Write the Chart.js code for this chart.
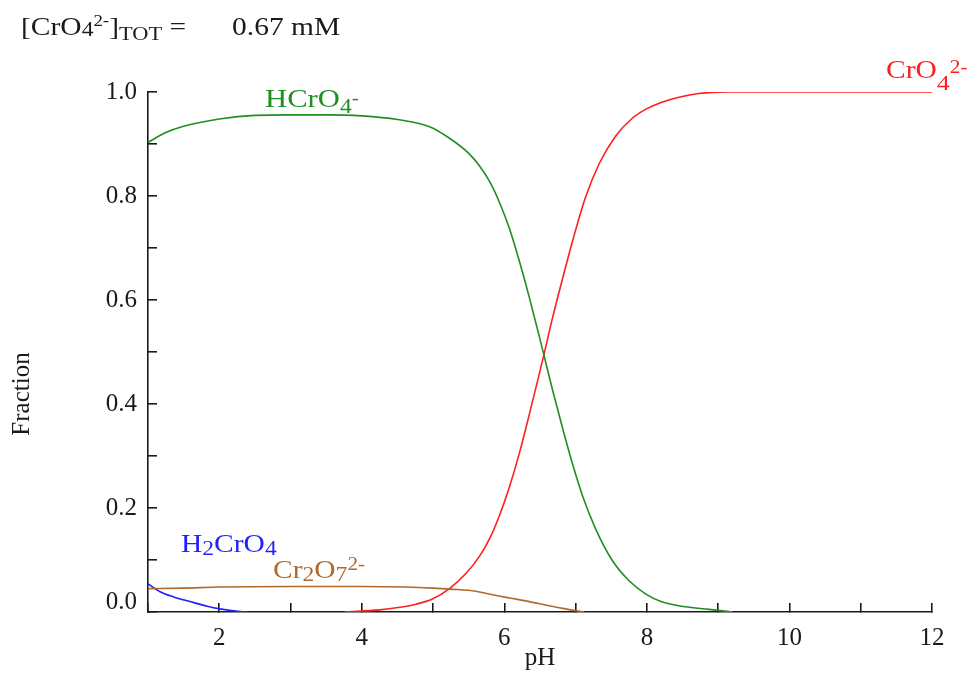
<!DOCTYPE html>
<html>
<head>
<meta charset="utf-8">
<script src="https://cdn.jsdelivr.net/npm/chart.js@4.4.1/dist/chart.umd.min.js"></script>
<style>
  html, body { margin: 0; padding: 0; background: #fff; }
  #wrap { position: relative; width: 977px; height: 684px; }
</style>
</head>
<body>
<div id="wrap">
  <canvas id="myChart" width="977" height="684"></canvas>
</div>
<script>
// values (pH -> fraction)
const ph_H2CrO4 = [1.0, 1.17, 1.36, 1.59, 1.83, 2.01, 2.29, 2.4];
const frac_H2CrO4 = [0.054, 0.039, 0.029, 0.020, 0.011, 0.006, 0.001, 0.0];

const ph_HCrO4 = [1.0, 1.25, 1.5, 2.0, 2.5, 3.0, 3.5, 4.0, 4.5, 4.95, 5.23, 5.5, 5.65, 5.8, 5.93, 6.07, 6.21, 6.35, 6.49, 6.55, 6.68, 6.82, 6.96, 7.1, 7.28, 7.51, 7.75, 7.98, 8.2, 8.45, 8.87, 9.2];
const frac_HCrO4 = [0.903, 0.922, 0.934, 0.948, 0.955, 0.956, 0.956, 0.954, 0.947, 0.933, 0.911, 0.882, 0.858, 0.826, 0.788, 0.738, 0.675, 0.605, 0.530, 0.497, 0.425, 0.352, 0.283, 0.222, 0.160, 0.100, 0.060, 0.035, 0.020, 0.012, 0.005, 0.0];

const ph_CrO4 = [3.76, 4.25, 4.53, 4.76, 4.99, 5.23, 5.46, 5.65, 5.8, 5.93, 6.07, 6.21, 6.35, 6.49, 6.55, 6.68, 6.82, 6.96, 7.14, 7.33, 7.56, 7.79, 8.0, 8.2, 8.45, 8.73, 9.1, 10, 11, 12];
const frac_CrO4 = [0.0, 0.004, 0.009, 0.015, 0.025, 0.045, 0.074, 0.107, 0.143, 0.185, 0.240, 0.305, 0.380, 0.458, 0.492, 0.568, 0.643, 0.715, 0.798, 0.862, 0.915, 0.949, 0.968, 0.980, 0.990, 0.997, 1.0, 1.0, 1.0, 1.0];

const ph_Cr2O7 = [1.0, 1.5, 2.0, 3.0, 4.0, 4.6, 5.0, 5.25, 5.6, 5.8, 6.07, 6.35, 6.63, 6.86, 7.12];
const frac_Cr2O7 = [0.045, 0.046, 0.048, 0.049, 0.049, 0.048, 0.046, 0.044, 0.040, 0.034, 0.027, 0.020, 0.012, 0.006, 0.0];

const xTicks = [2, 4, 6, 8, 10, 12];
const yTicks = [0.0, 0.2, 0.4, 0.6, 0.8, 1.0];

const SERIF = '"Liberation Serif", "Times New Roman", serif';
const GREEN = '#1f8f1f', RED = '#ff1f1f', BLUE = '#1f1fff', BROWN = '#b0692c', INK = '#1a1a1a';
const SX = 1.18; // text in the picture is a bit wider than plain Times

function pts(xs, ys) { return xs.map((x, i) => ({ x: x, y: ys[i] })); }

// draws text made of pieces [text, size, dy]
function richText(ctx, x, y, parts, color) {
    ctx.save();
    ctx.translate(x, y);
    ctx.scale(SX, 1);
    ctx.fillStyle = color;
    ctx.textAlign = 'left';
    ctx.textBaseline = 'alphabetic';
    let cx = 0;
    parts.forEach(p => {
        ctx.font = p[1] + 'px ' + SERIF;
        ctx.fillText(p[0], cx, p[2]);
        cx += ctx.measureText(p[0]).width;
    });
    ctx.restore();
}

const labelsPlugin = {
    id: 'speciesLabels',
    afterDraw(chart) {
        const ctx = chart.ctx;
        const ys = chart.scales.y;
        // header
        richText(ctx, 21, 35, [['[CrO', 25, 0], ['4', 20, 1], ['2-', 16, -9], [']', 25, 0], ['TOT', 19, 5], [' =', 25, 0]], INK);
        richText(ctx, 232, 35, [['0.67 mM', 25, 0]], INK);
        // species
        richText(ctx, 265, 107, [['HCrO', 26, 0], ['4', 20, 6], ['-', 18, -3]], GREEN);
        richText(ctx, 886, 78, [['CrO', 25, 0], ['4', 22, 12], ['2-', 18, -5]], RED);
        richText(ctx, 181, 552, [['H', 25, 0], ['2', 20, 3], ['CrO', 25, 0], ['4', 20, 3]], BLUE);
        richText(ctx, 273, 578, [['Cr', 25, 0], ['2', 20, 3], ['O', 25, 0], ['7', 20, 3], ['2-', 18, -8]], BROWN);
        // y tick label at zero sits above the axis
        ctx.save();
        ctx.font = '25px ' + SERIF;
        ctx.fillStyle = INK;
        ctx.textAlign = 'right';
        ctx.textBaseline = 'middle';
        ctx.fillText(yTicks[0].toFixed(1), 137, ys.getPixelForValue(0) - 10);
        // y title
        ctx.translate(22, 394);
        ctx.rotate(-Math.PI / 2);
        ctx.textAlign = 'center';
        ctx.fillText('Fraction', 0, 0);
        ctx.restore();
    }
};

const line = (data, color) => ({
    data: data,
    borderColor: color,
    borderWidth: 1.6,
    pointRadius: 0,
    fill: false,
    cubicInterpolationMode: 'monotone'
});

new Chart(document.getElementById('myChart').getContext('2d'), {
    type: 'line',
    data: {
        datasets: [
            line(pts(ph_Cr2O7, frac_Cr2O7), BROWN),
            line(pts(ph_H2CrO4, frac_H2CrO4), BLUE),
            line(pts(ph_HCrO4, frac_HCrO4), GREEN),
            line(pts(ph_CrO4, frac_CrO4), RED)
        ]
    },
    options: {
        responsive: false,
        animation: false,
        devicePixelRatio: 1,
        layout: { padding: { top: 92, right: 45, left: 0, bottom: 0 } },
        plugins: { legend: { display: false }, tooltip: { enabled: false } },
        scales: {
            x: {
                type: 'linear',
                min: 1, max: 12,
                afterFit: s => { s.height = 72; },
                border: { color: INK, width: 1.6 },
                grid: { drawOnChartArea: false, drawTicks: true, tickLength: -9, color: INK, lineWidth: 1.6 },
                ticks: {
                    stepSize: 1, autoSkip: false, maxRotation: 0, padding: 20,
                    color: INK, font: { family: SERIF, size: 25 },
                    callback: v => xTicks.includes(v) ? String(v) : ''
                },
                title: { display: true, text: 'pH', color: INK, font: { family: SERIF, size: 25 }, padding: { top: 0, bottom: 11 } }
            },
            y: {
                min: 0, max: 1,
                afterFit: s => { s.width = 148; },
                border: { color: INK, width: 1.6 },
                grid: { drawOnChartArea: false, drawTicks: true, tickLength: -9, color: INK, lineWidth: 1.6 },
                ticks: {
                    stepSize: 0.1, autoSkip: false, padding: 20,
                    color: INK, font: { family: SERIF, size: 25 },
                    callback: v => {
                        const t = Math.round(v * 10) / 10;
                        return (t > 0 && yTicks.some(k => Math.abs(k - t) < 1e-6)) ? t.toFixed(1) : '';
                    }
                }
            }
        }
    },
    plugins: [labelsPlugin]
});
</script>
</body>
</html>
